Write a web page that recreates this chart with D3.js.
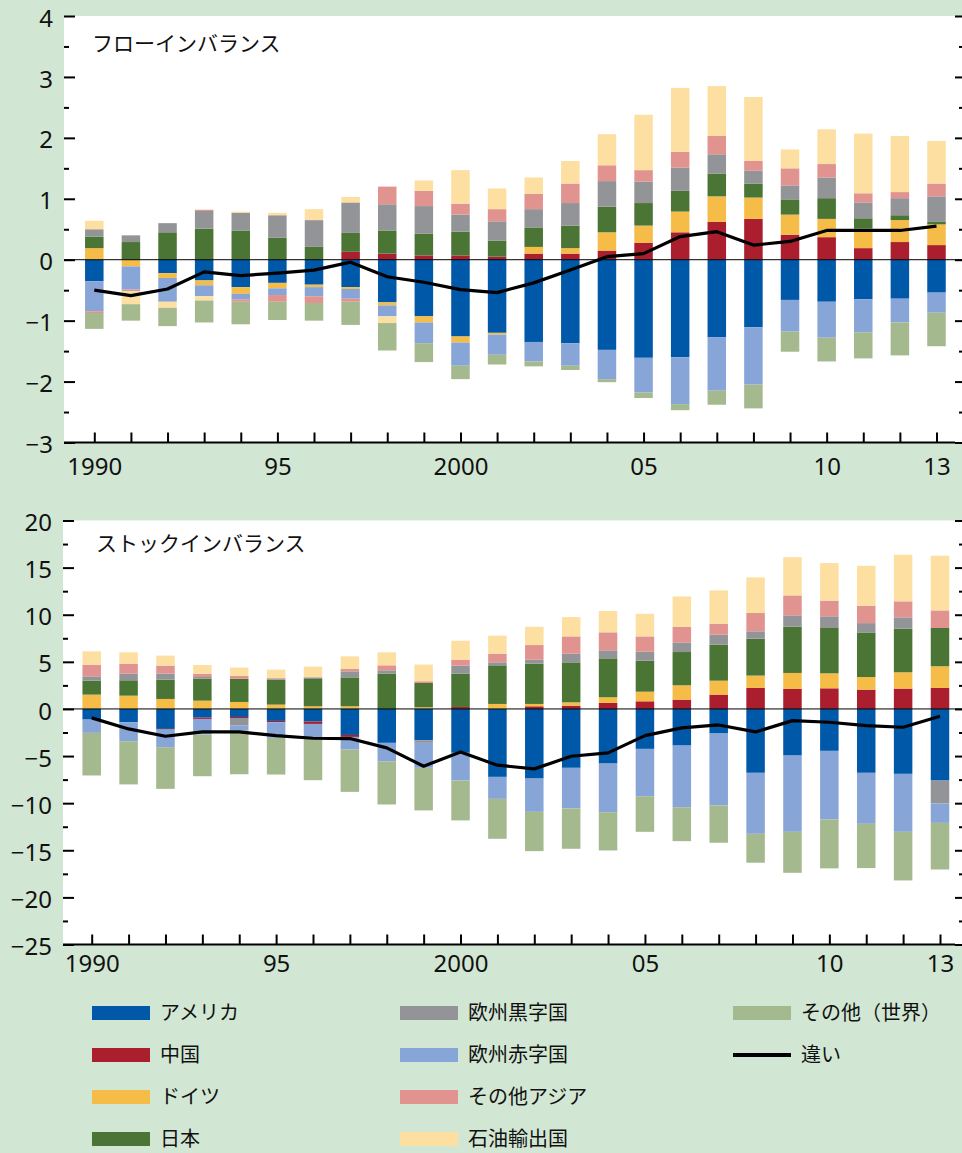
<!DOCTYPE html>
<html>
<head>
<meta charset="utf-8">
<script src="https://cdn.jsdelivr.net/npm/d3@7"></script>
<style>
  html, body { margin: 0; padding: 0; background: #d1e7d3; }
  svg { display: block; }
</style>
</head>
<body>
<svg id="chart" width="962" height="1153"></svg>
<script>
// ---------- DATA ----------
const years = [1990,1991,1992,1993,1994,1995,1996,1997,1998,1999,2000,2001,2002,2003,2004,2005,2006,2007,2008,2009,2010,2011,2012,2013];
const yearLabels = {1990:"1990",1995:"95",2000:"2000",2005:"05",2010:"10",2013:"13"};

const seriesNames = ["アメリカ","中国","ドイツ","日本","欧州黒字国","欧州赤字国","その他アジア","石油輸出国","その他（世界）"];
const seriesColors = ["#0059a8","#ab1e2e","#f5bd47","#4b7535","#939497","#87a5d7","#e0938f","#fddfa1","#a4b98e"];
const lineName = "違い";

// Flow imbalance
const flowAmerica = [-0.355,0,-0.22,-0.34,-0.45,-0.38,-0.41,-0.45,-0.70,-0.93,-1.26,-1.20,-1.35,-1.37,-1.48,-1.61,-1.60,-1.27,-1.11,-0.66,-0.69,-0.65,-0.64,-0.54];
const flowChina   = [0,0,0,0,0,0,0,0.13,0.10,0.07,0.07,0.05,0.10,0.10,0.15,0.28,0.45,0.62,0.67,0.41,0.37,0.19,0.29,0.24];
const flowGermany = [0.19,-0.11,-0.08,-0.08,-0.11,-0.09,-0.04,-0.03,-0.05,-0.10,-0.10,-0.03,0.11,0.09,0.30,0.28,0.34,0.42,0.35,0.33,0.30,0.32,0.36,0.34];
const flowJapan   = [0.19,0.29,0.45,0.51,0.48,0.36,0.21,0.31,0.38,0.36,0.39,0.26,0.32,0.37,0.42,0.37,0.34,0.37,0.23,0.25,0.34,0.17,0.08,0.04];
const flowEuSurplus = [0.12,0.11,0.15,0.29,0.29,0.37,0.44,0.50,0.43,0.45,0.28,0.32,0.30,0.37,0.42,0.35,0.38,0.32,0.21,0.23,0.34,0.26,0.28,0.42];
const flowEuDeficit = [-0.49,-0.38,-0.39,-0.18,-0.09,-0.11,-0.15,-0.16,-0.18,-0.34,-0.38,-0.33,-0.32,-0.37,-0.48,-0.57,-0.77,-0.88,-0.94,-0.52,-0.59,-0.54,-0.39,-0.33];
const flowOtherAsia = [-0.03,-0.03,0,0.02,-0.04,-0.11,-0.11,-0.05,0.29,0.25,0.18,0.20,0.25,0.32,0.26,0.19,0.26,0.30,0.16,0.28,0.22,0.15,0.10,0.21];
const flowOil     = [0.14,-0.21,-0.10,-0.07,0.02,0.04,0.18,0.09,-0.11,0.17,0.55,0.34,0.27,0.37,0.51,0.91,1.05,0.82,1.05,0.31,0.57,0.98,0.92,0.70];
const flowRest    = [-0.26,-0.27,-0.30,-0.36,-0.37,-0.30,-0.29,-0.38,-0.45,-0.31,-0.22,-0.16,-0.08,-0.07,-0.05,-0.09,-0.10,-0.23,-0.39,-0.33,-0.39,-0.43,-0.54,-0.55];
const flowDiff    = [-0.50,-0.59,-0.48,-0.20,-0.26,-0.22,-0.17,-0.04,-0.28,-0.37,-0.49,-0.54,-0.38,-0.17,0.05,0.10,0.38,0.46,0.24,0.30,0.48,0.48,0.48,0.55];

// Stock imbalance
const stockAmerica = [-1.13,-1.41,-2.12,-0.92,-0.85,-1.27,-1.34,-2.76,-3.60,-3.32,-4.66,-7.21,-7.39,-6.25,-5.80,-4.24,-3.89,-2.61,-6.78,-4.95,-4.45,-6.78,-6.89,-7.60];
const stockChina   = [0,0,-0.07,-0.14,-0.11,-0.14,-0.25,-0.21,0,0,0.21,0,0.28,0.35,0.64,0.81,0.99,1.52,2.23,2.12,2.19,2.05,2.16,2.23];
const stockGermany = [1.52,1.41,1.06,0.88,0.74,0.46,0.28,0.28,0,0.18,0,0.53,0.25,0.35,0.60,1.02,1.52,1.48,1.31,1.70,1.59,1.34,1.73,2.30];
const stockJapan   = [1.48,1.63,2.05,2.33,2.47,2.65,2.90,3.07,3.75,2.58,3.53,4.10,4.28,4.24,4.13,3.29,3.53,3.82,3.92,4.91,4.81,4.73,4.63,4.06];
const stockEuSurplus = [0.46,0.71,0.64,0.18,-0.81,0.11,0.18,0.64,0.35,-0.28,0.85,0.32,0.42,0.92,0.85,0.95,1.02,1.06,0.78,1.20,1.24,0.99,1.20,-2.44];
const stockEuDeficit = [-1.41,-2.01,-1.87,-1.66,-0.53,-1.66,-1.59,-1.34,-1.98,-2.65,-2.93,-2.33,-3.53,-4.31,-5.16,-5.02,-6.54,-7.63,-6.47,-8.09,-7.28,-5.41,-6.15,-2.05];
const stockOtherAsia = [1.24,1.06,0.85,0.35,0.30,0.07,0,0.25,0.53,0.18,0.64,0.92,1.55,1.84,1.91,1.63,1.66,1.17,1.94,2.12,1.66,1.84,1.70,1.87];
const stockOil     = [1.41,1.20,1.06,0.92,0.88,0.88,1.13,1.34,1.38,1.77,2.01,1.91,1.94,2.05,2.26,2.40,3.22,3.53,3.78,4.06,3.99,4.24,4.95,5.80];
const stockRest    = [-4.52,-4.59,-4.42,-4.42,-4.63,-3.89,-4.38,-4.49,-4.56,-4.52,-4.24,-4.24,-4.17,-4.28,-4.06,-3.78,-3.60,-3.96,-3.07,-4.35,-5.19,-4.70,-5.16,-4.95];
const stockDiff    = [-0.95,-2.12,-2.90,-2.44,-2.44,-2.83,-3.11,-3.14,-4.13,-6.08,-4.56,-5.97,-6.36,-5.02,-4.66,-2.83,-2.01,-1.70,-2.44,-1.24,-1.41,-1.77,-1.94,-0.78];

const flowTicks = [4,3,2,1,0,-1,-2,-3];
const stockTicks = [20,15,10,5,0,-5,-10,-15,-20,-25];

// ---------- DRAW ----------
const svg = d3.select("#chart");
const numFont = "'Noto Sans', 'DejaVu Sans', sans-serif";
const cjkFont = "'Noto Sans CJK JP', 'Noto Sans', sans-serif";
const minus = s => String(s).replace("-", "\u2212");

svg.append("rect").attr("width", 962).attr("height", 1153).attr("fill", "#d1e7d3");

function panel(cfg) {
  const { seriesArrays, diff, domain, ticks, minorStep, top, bottom, left, xRange, title, labelPad, titleY } = cfg;
  const right = 962;
  const g = svg.append("g");
  g.append("rect").attr("x", left).attr("y", top).attr("width", right - left).attr("height", bottom - top).attr("fill", "#ffffff");

  const y = d3.scaleLinear().domain(domain).range([bottom, top]);
  const x = d3.scalePoint().domain(years).range(xRange);
  const barW = 18.5;

  const rows = years.map((yr, i) => {
    const r = { year: yr };
    seriesArrays.forEach((arr, k) => { r[k] = arr[i]; });
    return r;
  });
  const keys = seriesArrays.map((_, k) => k);
  const stacked = d3.stack().keys(keys).offset(d3.stackOffsetDiverging)(rows);

  g.append("g").selectAll("g").data(stacked).join("g")
    .attr("fill", d => seriesColors[d.key])
    .selectAll("rect").data(d => d).join("rect")
      .attr("x", d => x(d.data.year) - barW / 2)
      .attr("width", barW)
      .attr("y", d => y(Math.max(d[0], d[1])))
      .attr("height", d => Math.abs(y(d[0]) - y(d[1])));

  // zero line
  g.append("line").attr("x1", left).attr("x2", right).attr("y1", y(0)).attr("y2", y(0))
    .attr("stroke", "#000").attr("stroke-width", 1);

  // diff line
  const line = d3.line().x((d, i) => x(years[i])).y(d => y(d));
  g.append("path").datum(diff).attr("d", line).attr("fill", "none")
    .attr("stroke", "#000").attr("stroke-width", 3.2).attr("stroke-linejoin", "round");

  // minor ticks values
  const minorVals = d3.range(domain[0], domain[1] + 1e-9, minorStep).filter(v => !ticks.some(t => Math.abs(t - v) < 1e-9));

  // left axis (ticks pointing inside)
  const leftAxis = d3.axisLeft(y).tickValues(ticks).tickSizeInner(-11).tickSizeOuter(0).tickPadding(11).tickFormat(minus);
  const la = g.append("g").attr("transform", `translate(${left},0)`).call(leftAxis);
  la.select(".domain").remove();
  la.selectAll("line").attr("stroke", "#000").attr("stroke-width", 2);
  la.selectAll("text").attr("font-family", numFont).attr("font-size", 24).attr("fill", "#111").attr("dy", "0.42em");
  const lm = g.append("g").attr("transform", `translate(${left},0)`)
    .call(d3.axisLeft(y).tickValues(minorVals).tickSizeInner(-5).tickSizeOuter(0).tickFormat(""));
  lm.select(".domain").remove();
  lm.selectAll("line").attr("stroke", "#000").attr("stroke-width", 2);

  // right axis ticks
  const ra = g.append("g").attr("transform", `translate(${right},0)`)
    .call(d3.axisRight(y).tickValues(ticks).tickSizeInner(-7).tickSizeOuter(0).tickFormat(""));
  ra.select(".domain").remove();
  ra.selectAll("line").attr("stroke", "#000").attr("stroke-width", 2);
  const rm = g.append("g").attr("transform", `translate(${right},0)`)
    .call(d3.axisRight(y).tickValues(minorVals).tickSizeInner(-3).tickSizeOuter(0).tickFormat(""));
  rm.select(".domain").remove();
  rm.selectAll("line").attr("stroke", "#000").attr("stroke-width", 2);

  // bottom axis
  const bx = d3.axisBottom(x).tickSizeInner(-10).tickSizeOuter(0).tickPadding(labelPad)
    .tickFormat(d => yearLabels[d] || "");
  const ba = g.append("g").attr("transform", `translate(0,${bottom})`).call(bx);
  ba.select(".domain").remove();
  ba.append("line").attr("x1", left).attr("x2", 955).attr("y1", 0).attr("y2", 0)
    .attr("stroke", "#000").attr("stroke-width", 2.2);
  ba.selectAll(".tick line").attr("stroke", "#000").attr("stroke-width", 2);
  ba.selectAll("text").attr("font-family", numFont).attr("font-size", 24).attr("fill", "#111");

  g.append("text").attr("x", cfg.titleX).attr("y", titleY).text(title)
    .attr("font-family", cjkFont).attr("font-size", 21).attr("fill", "#111");
}

panel({
  seriesArrays: [flowAmerica, flowChina, flowGermany, flowJapan, flowEuSurplus, flowEuDeficit, flowOtherAsia, flowOil, flowRest],
  diff: flowDiff, domain: [-3, 4], ticks: flowTicks, minorStep: 0.5,
  top: 16, bottom: 442.5, left: 64, xRange: [94.3, 936.5],
  title: "フローインバランス", titleX: 92, titleY: 51, labelPad: 15
});

panel({
  seriesArrays: [stockAmerica, stockChina, stockGermany, stockJapan, stockEuSurplus, stockEuDeficit, stockOtherAsia, stockOil, stockRest],
  diff: stockDiff, domain: [-25, 20], ticks: stockTicks, minorStep: 2.5,
  top: 520.5, bottom: 944.5, left: 63, xRange: [91.7, 940],
  title: "ストックインバランス", titleX: 96, titleY: 551, labelPad: 10
});

// ---------- LEGEND ----------
const legendCols = [92, 400, 733];
const legendRows = [1013, 1055, 1097, 1139];
const legendItems = seriesNames.map((n, i) => ({ name: n, color: seriesColors[i], type: "bar" }));
legendItems.push({ name: lineName, color: "#000", type: "line" });
const lg = svg.append("g");
legendItems.forEach((it, i) => {
  const col = Math.floor(i / 4), row = i % 4;
  const lx = legendCols[col], ly = legendRows[row];
  if (it.type === "bar") {
    lg.append("rect").attr("x", lx).attr("y", ly - 7).attr("width", 58).attr("height", 14).attr("fill", it.color);
  } else {
    lg.append("line").attr("x1", lx).attr("x2", lx + 58).attr("y1", ly).attr("y2", ly)
      .attr("stroke", "#000").attr("stroke-width", 4);
  }
  lg.append("text").attr("x", lx + 68).attr("y", ly).attr("dy", "0.36em").text(it.name)
    .attr("font-family", cjkFont).attr("font-size", 20).attr("fill", "#111");
});
</script>
</body>
</html>
